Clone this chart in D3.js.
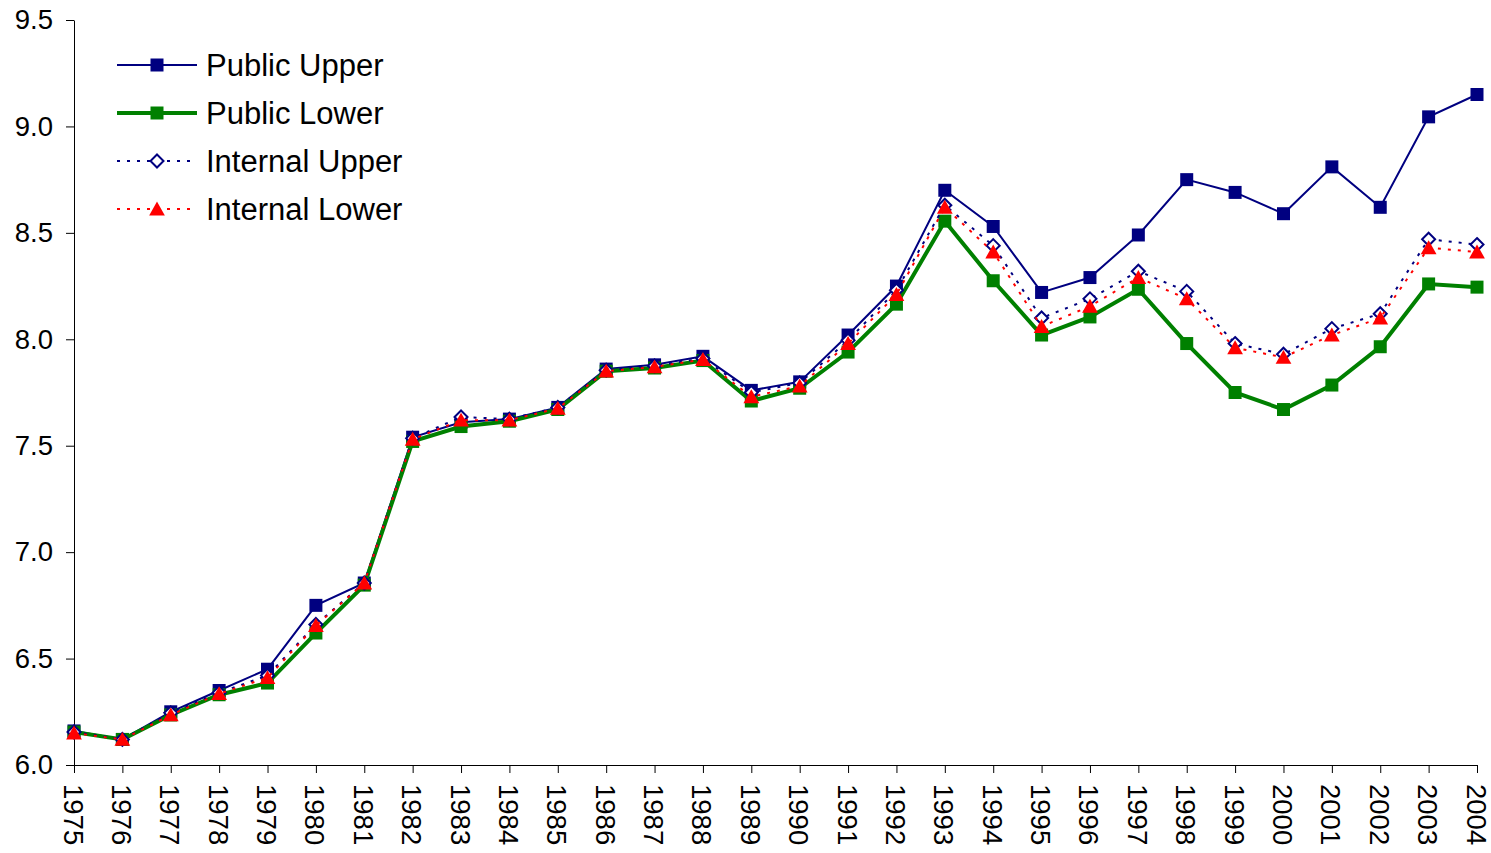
<!DOCTYPE html>
<html>
<head>
<meta charset="utf-8">
<script src="https://cdn.jsdelivr.net/npm/d3@7"></script>
<style>
  body { margin: 0; background: #fff; }
  text { font-family: "Liberation Sans", Arial, sans-serif; }
</style>
</head>
<body>
<div id="chart_area"></div>
<script>
// data
var years = d3.range(1975, 2005);

var publicUpper = [6.16, 6.12, 6.25, 6.35, 6.45, 6.75, 6.855, 7.54, 7.61, 7.625,
  7.68, 7.86, 7.88, 7.92, 7.76, 7.80, 8.02, 8.25, 8.70, 8.53,
  8.22, 8.29, 8.49, 8.75, 8.69, 8.59, 8.81, 8.62, 9.045, 9.15];

var publicLower = [6.155, 6.12, 6.235, 6.33, 6.385, 6.62, 6.845, 7.52, 7.59, 7.615,
  7.67, 7.85, 7.865, 7.90, 7.71, 7.77, 7.94, 8.165, 8.555, 8.275,
  8.02, 8.105, 8.235, 7.98, 7.75, 7.67, 7.785, 7.965, 8.26, 8.245];

var internalUpper = [6.155, 6.12, 6.245, 6.34, 6.42, 6.66, 6.855, 7.535, 7.635, 7.625,
  7.68, 7.855, 7.875, 7.91, 7.75, 7.795, 7.995, 8.23, 8.63, 8.44,
  8.10, 8.19, 8.32, 8.225, 7.98, 7.93, 8.05, 8.12, 8.47, 8.445];

var internalLower = [6.15, 6.12, 6.235, 6.335, 6.41, 6.655, 6.855, 7.53, 7.62, 7.62,
  7.675, 7.85, 7.87, 7.905, 7.73, 7.78, 7.98, 8.21, 8.62, 8.41,
  8.06, 8.155, 8.29, 8.19, 7.96, 7.915, 8.02, 8.10, 8.43, 8.41];

var yTicks = [6.0, 6.5, 7.0, 7.5, 8.0, 8.5, 9.0, 9.5];

var seriesNames = ["Public Upper", "Public Lower", "Internal Upper", "Internal Lower"];

var series = [
  { name: seriesNames[0], values: publicUpper, color: "#000080", width: 2, dash: null, marker: "square", size: 13, fill: "#000080" },
  { name: seriesNames[1], values: publicLower, color: "#008000", width: 4, dash: null, marker: "square", size: 13, fill: "#008000" },
  { name: seriesNames[2], values: internalUpper, color: "#000080", width: 2, dash: "3,7", marker: "diamond", size: 13, fill: "#ffffff" },
  { name: seriesNames[3], values: internalLower, color: "#ff0000", width: 2, dash: "3,7", marker: "triangle", size: 15, fill: "#ff0000" }
];

var canvas_width = 1491,
  canvas_height = 853;

var margin = { top: 20, right: 14, bottom: 88, left: 74 };

var svg = d3.select("#chart_area")
  .append("svg")
  .attr("width", canvas_width)
  .attr("height", canvas_height);

var x = d3.scaleLinear()
  .domain([1975, 2004])
  .range([margin.left, canvas_width - margin.right]);

var y = d3.scaleLinear()
  .domain([6.0, 9.5])
  .range([canvas_height - margin.bottom, margin.top]);

// axes
var yAxis = d3.axisLeft(y)
  .tickValues(yTicks)
  .tickFormat(d3.format(".1f"))
  .tickSize(8)
  .tickPadding(13)
  .tickSizeOuter(0);

svg.append("g")
  .attr("transform", "translate(" + margin.left + ",0)")
  .call(yAxis)
  .call(g => g.select(".domain").attr("stroke", "#000"))
  .call(g => g.selectAll("text").attr("font-size", 27.5).attr("fill", "#000"));

var xAxis = d3.axisBottom(x)
  .tickValues(years)
  .tickFormat(d3.format("d"))
  .tickSize(8)
  .tickSizeOuter(0);

svg.append("g")
  .attr("transform", "translate(0," + (canvas_height - margin.bottom) + ")")
  .call(xAxis)
  .call(g => g.select(".domain").attr("stroke", "#000"))
  .call(g => g.selectAll("text")
    .attr("font-size", 27.5)
    .attr("fill", "#000")
    .attr("text-anchor", "start")
    .attr("dy", null)
    .attr("y", 0)
    .attr("x", 0)
    .attr("transform", "translate(-11,19) rotate(90)"));

// markers
function markerPath(type, size) {
  var h = size / 2;
  if (type == "square") return "M" + (-h) + "," + (-h) + "h" + size + "v" + size + "h" + (-size) + "Z";
  if (type == "diamond") return "M0," + (-h) + "L" + h + ",0L0," + h + "L" + (-h) + ",0Z";
  // triangle
  return "M0," + (-h) + "L" + (h * 1.05) + "," + (h * 0.85) + "L" + (-h * 1.05) + "," + (h * 0.85) + "Z";
}

var line = d3.line()
  .x((d, i) => x(years[i]))
  .y(d => y(d));

series.forEach(function (s) {
  var g = svg.append("g");
  g.append("path")
    .datum(s.values)
    .attr("d", line)
    .attr("fill", "none")
    .attr("stroke", s.color)
    .attr("stroke-width", s.width)
    .attr("stroke-dasharray", s.dash);

  g.selectAll("path.mark")
    .data(s.values)
    .join("path")
    .attr("class", "mark")
    .attr("transform", (d, i) => "translate(" + x(years[i]) + "," + y(d) + ")")
    .attr("d", markerPath(s.marker, s.size))
    .attr("fill", s.fill)
    .attr("stroke", s.marker == "diamond" ? s.color : "none")
    .attr("stroke-width", 2);
});

// legend
var legend = svg.append("g")
  .attr("transform", "translate(117,65)");

var rows = legend.selectAll("g")
  .data(series)
  .join("g")
  .attr("transform", (d, i) => "translate(0," + i * 48 + ")");

rows.append("line")
  .attr("x1", 0).attr("x2", 80)
  .attr("stroke", d => d.color)
  .attr("stroke-width", d => d.width)
  .attr("stroke-dasharray", d => d.dash);

rows.append("path")
  .attr("transform", "translate(40,0)")
  .attr("d", d => markerPath(d.marker, d.size))
  .attr("fill", d => d.fill)
  .attr("stroke", d => d.marker == "diamond" ? d.color : "none")
  .attr("stroke-width", 2);

rows.append("text")
  .attr("x", 89)
  .attr("y", 11)
  .attr("font-size", 31)
  .attr("fill", "#000")
  .text(d => d.name);
</script>
</body>
</html>
